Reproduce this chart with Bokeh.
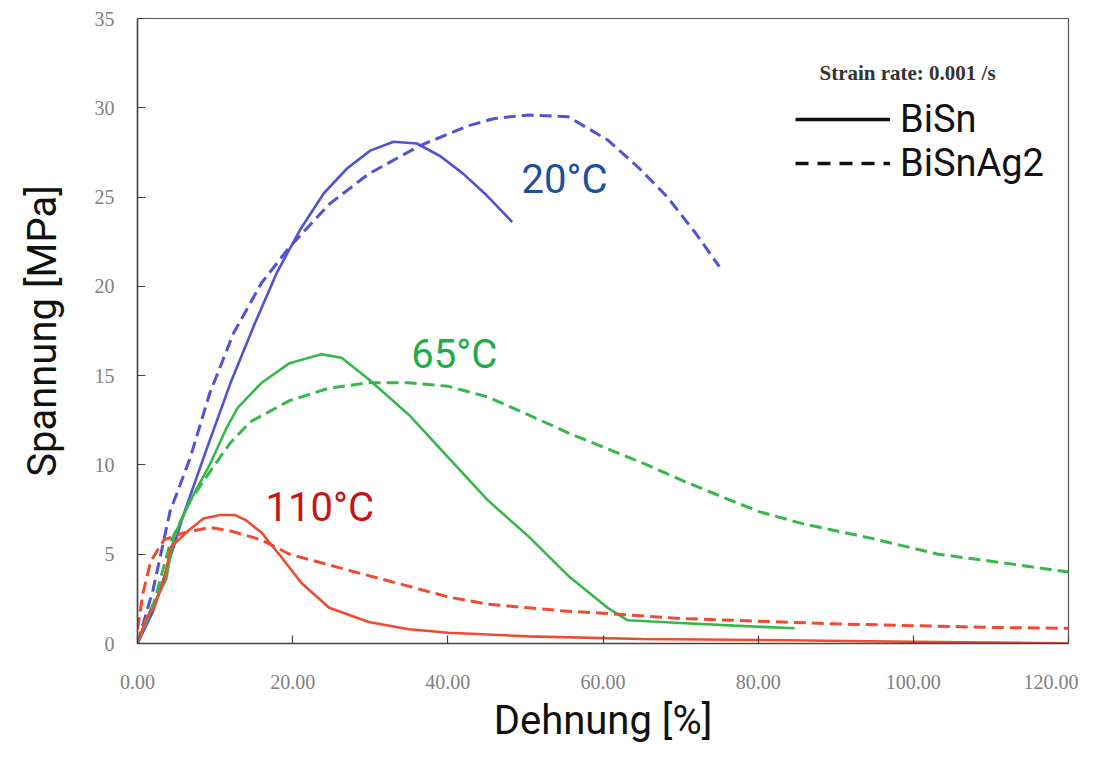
from bokeh.plotting import figure
from bokeh.models import (FixedTicker, NumeralTickFormatter, Label, Legend, LegendItem, Range1d)
from bokeh.embed import file_html
from bokeh.resources import INLINE

# ---- data (Dehnung [%], Spannung [MPa]) ----
bisn_20_x = [0, 2, 4, 6, 9, 12, 15, 18, 21, 24, 27, 30, 33, 36, 39, 42, 45, 48.3]
bisn_20_y = [0, 1.8, 4.5, 7.3, 11.0, 14.6, 17.8, 20.8, 23.2, 25.2, 26.6, 27.6, 28.1, 28.0, 27.3, 26.3, 25.1, 23.6]

bisnag_20_x = [0, 2, 4.2, 6.8, 9.3, 12.4, 16, 19.6, 24.7, 29.8, 36.5, 42.7, 46, 50.4, 55.5, 60.6, 64.7, 68.3, 71.9, 75]
bisnag_20_y = [0, 3.0, 7.4, 10.4, 14.0, 17.4, 20.2, 22.2, 24.6, 26.3, 27.9, 29.0, 29.4, 29.6, 29.5, 28.2, 26.6, 25.0, 23.0, 21.1]

bisn_65_x = [0, 1.6, 3.7, 4.7, 6.8, 9.3, 11.4, 12.9, 16, 19.6, 23.7, 26.3, 29.8, 35, 40.1, 45.2, 50.4, 55.5, 60.6, 63.2, 70, 77, 84.7]
bisn_65_y = [0, 1.8, 3.6, 6.0, 8.0, 10.0, 12.0, 13.2, 14.6, 15.7, 16.2, 16.0, 14.8, 12.8, 10.4, 8.0, 6.0, 3.8, 2.0, 1.3, 1.15, 1.0, 0.85]

bisnag_65_x = [0, 2.2, 4.2, 6.8, 9.3, 11.9, 14.5, 19.6, 24.7, 29.8, 35, 40.1, 45.2, 50.4, 55.5, 60.6, 65.7, 70.9, 76, 80, 85.8, 94.5, 103.2, 111.9, 120]
bisnag_65_y = [0, 2.4, 5.6, 8.0, 9.6, 11.2, 12.4, 13.6, 14.3, 14.6, 14.6, 14.4, 13.8, 12.8, 11.8, 10.9, 10.0, 9.0, 8.1, 7.4, 6.7, 5.9, 5.0, 4.5, 4.0]

bisn_110_x = [0, 1.1, 2.1, 3.4, 4.3, 6.5, 8.5, 10.7, 12.5, 14, 16, 18.6, 21.1, 24.7, 29.8, 35, 40.1, 50.4, 65, 80, 100, 120]
bisn_110_y = [0, 1.4, 2.0, 3.5, 5.4, 6.3, 7.0, 7.2, 7.2, 6.9, 6.2, 4.8, 3.4, 2.0, 1.2, 0.8, 0.6, 0.4, 0.25, 0.2, 0.1, 0.0]

bisnag_110_x = [0, 0.7, 1.7, 3.4, 6, 9.3, 12, 16, 19.6, 24.7, 29.8, 35, 40.1, 45.2, 50.4, 55.5, 60, 70, 80, 90, 100, 110, 120]
bisnag_110_y = [0.8, 2.8, 4.6, 5.8, 6.2, 6.5, 6.3, 5.8, 5.0, 4.4, 3.8, 3.2, 2.6, 2.2, 2.0, 1.8, 1.7, 1.4, 1.25, 1.1, 1.0, 0.9, 0.85]

x_ticks = [0, 20, 40, 60, 80, 100, 120]
y_ticks = [0, 5, 10, 15, 20, 25, 30, 35]
temp_labels = ["20°C", "65°C", "110°C"]
series_names = ["BiSn", "BiSnAg2"]
subtitle = "Strain rate: 0.001 /s"

BLUE = "#5252d6"
GREEN = "#36b84a"
RED = "#f04a30"

p = figure(width=1078, height=752, output_backend="svg", toolbar_location=None,
           x_range=Range1d(0, 120), y_range=Range1d(0, 35),
           min_border_left=137, min_border_right=10, min_border_top=18, min_border_bottom=109)
p.grid.visible = False
p.outline_line_color = "#555555"
p.outline_line_width = 1.2
p.background_fill_color = "white"
p.border_fill_color = "white"

SOLID_W = 2.6
DASH_W = 3.0
DASH = "12 6"

p.line(bisn_20_x, bisn_20_y, color=BLUE, line_width=SOLID_W)
p.line(bisnag_20_x, bisnag_20_y, color=BLUE, line_width=DASH_W, line_dash=DASH)
p.line(bisn_65_x, bisn_65_y, color=GREEN, line_width=SOLID_W)
p.line(bisnag_65_x, bisnag_65_y, color=GREEN, line_width=DASH_W, line_dash=DASH)
p.line(bisn_110_x, bisn_110_y, color=RED, line_width=SOLID_W)
p.line(bisnag_110_x, bisnag_110_y, color=RED, line_width=DASH_W, line_dash=DASH)

# axes
for ax in (p.xaxis[0], p.yaxis[0]):
    ax.axis_line_color = "#444444"
    ax.axis_line_width = 1.5
    ax.major_tick_in = 8
    ax.major_tick_out = 0
    ax.major_tick_line_color = "#444444"
    ax.major_tick_line_width = 1.2
    ax.minor_tick_line_color = None
    ax.major_label_text_font = "Liberation Serif"
    ax.major_label_text_font_size = "20px"
    ax.major_label_text_color = "#808080"
    ax.axis_label_text_font = "Roboto"
    ax.axis_label_text_font_size = "40px"
    ax.axis_label_text_font_style = "normal"
    ax.axis_label_text_color = "#111111"

p.xaxis.ticker = FixedTicker(ticks=x_ticks)
p.xaxis.formatter = NumeralTickFormatter(format="0.00")
p.xaxis.major_label_standoff = 31
p.xaxis.axis_label = "Dehnung [%]"
p.xaxis.axis_label_standoff = 5

p.yaxis.ticker = FixedTicker(ticks=y_ticks)
p.yaxis.major_label_standoff = 23
p.yaxis.axis_label = "Spannung [MPa]"
p.yaxis.axis_label_standoff = 26

# temperature labels
for txt, xx, yy, col in [(temp_labels[0], 49.5, 26.0, "#1d4f9e"),
                         (temp_labels[1], 35.3, 16.2, "#1eac4a"),
                         (temp_labels[2], 16.5, 7.6, "#c81414")]:
    p.add_layout(Label(x=xx, y=yy, text=txt, text_font="Roboto", text_font_size="40px",
                       text_color=col, text_baseline="alphabetic"))

# legend (placeholder renderers with a single NaN point so the legend glyph is drawn)
nan = float("nan")
r1 = p.line([nan], [nan], color="#111111", line_width=3.5)
r2 = p.line([nan], [nan], color="#111111", line_width=3.5, line_dash="13 9")
legend = Legend(items=[LegendItem(label=series_names[0], renderers=[r1]),
                       LegendItem(label=series_names[1], renderers=[r2])],
                location=(658, 458), orientation="vertical",
                glyph_width=95, glyph_height=40, label_height=40, label_standoff=10,
                spacing=0, padding=0, margin=0,
                label_text_font="Roboto", label_text_font_size="38px",
                label_text_color="#111111",
                border_line_color=None, background_fill_alpha=0)
p.add_layout(legend)

p.add_layout(Label(x=87.9, y=31.95, text=subtitle, text_font="Liberation Serif",
                   text_font_size="21px", text_font_style="bold", text_color="#333333",
                   text_baseline="alphabetic"))

open("out.html", "w").write(file_html(p, INLINE))
